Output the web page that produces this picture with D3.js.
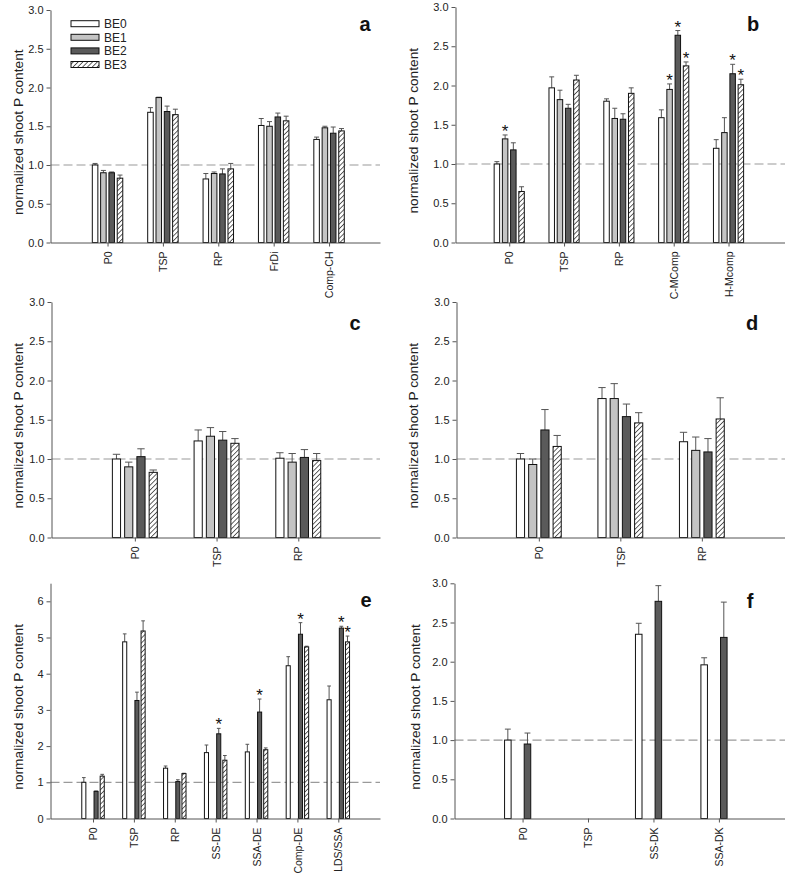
<!DOCTYPE html>
<html><head><meta charset="utf-8">
<script src="https://cdn.jsdelivr.net/npm/d3@7"></script>
<style>body{margin:0;background:#fff} svg{display:block}</style>
</head><body>
<svg id="chart" width="785" height="875"></svg>
<script>
const seriesNames = ["BE0", "BE1", "BE2", "BE3"];
const yLabel = "normalized shoot P content";

// Panel a
const catsA = ["P0", "TSP", "RP", "FrDi", "Comp-CH"];
const valsA = [
  [1.00, 1.68, 0.82, 1.51, 1.33],
  [0.90, 1.87, 0.89, 1.50, 1.48],
  [0.90, 1.69, 0.885, 1.62, 1.41],
  [0.83, 1.65, 0.95, 1.57, 1.44]
];
const errsA = [
  [0.02, 0.06, 0.07, 0.09, 0.03],
  [0.03, 0.005, 0.02, 0.06, 0.02],
  [0.01, 0.07, 0.065, 0.05, 0.08],
  [0.04, 0.07, 0.07, 0.06, 0.03]
];
const starsA = [];

// Panel b
const catsB = ["P0", "TSP", "RP", "C-MComp", "H-Mcomp"];
const valsB = [
  [1.00, 1.97, 1.80, 1.59, 1.20],
  [1.32, 1.82, 1.58, 1.95, 1.40],
  [1.18, 1.71, 1.57, 2.64, 2.15],
  [0.65, 2.07, 1.90, 2.25, 2.01]
];
const errsB = [
  [0.03, 0.14, 0.03, 0.10, 0.11],
  [0.05, 0.12, 0.13, 0.07, 0.19],
  [0.09, 0.05, 0.07, 0.06, 0.12],
  [0.06, 0.06, 0.07, 0.05, 0.07]
];
const starsB = [[0, 1], [3, 1], [3, 2], [3, 3], [4, 2], [4, 3]];

// Panel c
const catsC = ["P0", "TSP", "RP"];
const valsC = [
  [1.00, 1.23, 1.01],
  [0.90, 1.29, 0.96],
  [1.03, 1.24, 1.02],
  [0.83, 1.20, 0.98]
];
const errsC = [
  [0.06, 0.14, 0.07],
  [0.06, 0.11, 0.11],
  [0.10, 0.11, 0.10],
  [0.03, 0.06, 0.09]
];
const starsC = [];

// Panel d
const catsD = ["P0", "TSP", "RP"];
const valsD = [
  [1.00, 1.77, 1.22],
  [0.93, 1.77, 1.11],
  [1.37, 1.54, 1.09],
  [1.16, 1.46, 1.51]
];
const errsD = [
  [0.07, 0.14, 0.12],
  [0.07, 0.19, 0.17],
  [0.26, 0.16, 0.17],
  [0.14, 0.13, 0.27]
];
const starsD = [];

// Panel e
const catsE = ["P0", "TSP", "RP", "SS-DE", "SSA-DE", "Comp-DE", "LDS/SSA"];
const valsE = [
  [1.00, 4.88, 1.39, 1.82, 1.84, 4.22, 3.28],
  [null, null, null, null, null, null, null],
  [0.75, 3.26, 1.02, 2.34, 2.94, 5.09, 5.26],
  [1.17, 5.18, 1.24, 1.61, 1.90, 4.74, 4.88]
];
const errsE = [
  [0.13, 0.22, 0.06, 0.21, 0.21, 0.25, 0.38],
  [null, null, null, null, null, null, null],
  [0.01, 0.23, 0.05, 0.15, 0.36, 0.32, 0.05],
  [0.05, 0.28, 0.01, 0.13, 0.05, 0.02, 0.16]
];
const starsE = [[3, 2], [4, 2], [5, 2], [6, 2], [6, 3]];

// Panel f
const catsF = ["P0", "TSP", "SS-DK", "SSA-DK"];
const valsF = [
  [1.00, null, 2.35, 1.96],
  [null, null, null, null],
  [0.95, null, 2.77, 2.31],
  [null, null, null, null]
];
const errsF = [
  [0.14, null, 0.14, 0.09],
  [null, null, null, null],
  [0.14, null, 0.20, 0.45],
  [null, null, null, null]
];
const starsF = [];

const ticks3 = [0, 0.5, 1.0, 1.5, 2.0, 2.5, 3.0];
const ticks6 = [0, 1, 2, 3, 4, 5, 6];

const panels = [
  {letter: "a", cats: catsA, vals: valsA, errs: errsA, stars: starsA, dom: [-1.03, 4.92], left: 50.5, right: 380, top: 10, bottom: 242.5, ymax: 3, ticks: ticks3, fmt: d3.format(".1f"), labX: 18, letX: 365, letY: 31, legend: true},
  {letter: "b", cats: catsB, vals: valsB, errs: errsB, stars: starsB, dom: [-0.98, 5.03], left: 455.5, right: 785, top: 7, bottom: 242.5, ymax: 3, ticks: ticks3, fmt: d3.format(".1f"), labX: 413, letX: 753, letY: 31},
  {letter: "c", cats: catsC, vals: valsC, errs: errsC, stars: starsC, dom: [-1.02, 3.0], left: 51.5, right: 380, top: 302, bottom: 537.5, ymax: 3, ticks: ticks3, fmt: d3.format(".1f"), labX: 18, letX: 355, letY: 330},
  {letter: "d", cats: catsD, vals: valsD, errs: errsD, stars: starsD, dom: [-1.01, 3.02], left: 456.5, right: 785, top: 302, bottom: 537.5, ymax: 3, ticks: ticks3, fmt: d3.format(".1f"), labX: 413, letX: 752, letY: 330},
  {letter: "e", cats: catsE, vals: valsE, errs: errsE, stars: starsE, dom: [-1.04, 7.02], left: 50.5, right: 380, top: 583.2, bottom: 818.5, ymax: 6.5, ticks: ticks6, fmt: d3.format("d"), labX: 18, letX: 366, letY: 607},
  {letter: "f", cats: catsF, vals: valsF, errs: errsF, stars: starsF, dom: [-1.04, 4.01], left: 454.5, right: 785, top: 583.3, bottom: 818.5, ymax: 3, ticks: ticks3, fmt: d3.format(".1f"), labX: 415, letX: 750, letY: 608}
];

const fills = ["#ffffff", "#c4c4c4", "#5a5a5a", "url(#hatch)"];
const FONT = "'Liberation Sans', Arial, sans-serif";
const axisColor = "#555";

const svg = d3.select("#chart");
const defs = svg.append("defs");
const pat = defs.append("pattern").attr("id", "hatch").attr("patternUnits", "userSpaceOnUse")
  .attr("width", 3.4).attr("height", 3.4).attr("patternTransform", "rotate(45)");
pat.append("rect").attr("width", 3.4).attr("height", 3.4).attr("fill", "#fff");
pat.append("line").attr("x1", 0).attr("y1", 0).attr("x2", 0).attr("y2", 3.4)
  .attr("stroke", "#111").attr("stroke-width", 1.3);

panels.forEach(p => {
  const g = svg.append("g");
  const x = d3.scaleLinear().domain(p.dom).range([p.left, p.right]);
  const y = d3.scaleLinear().domain([0, p.ymax]).range([p.bottom, p.top]);
  const step = x(1) - x(0);
  const pitch = 0.15 * step, bw = 0.1 * step;
  const barX = (ci, si) => x(ci) + (si - 1.5) * pitch - bw / 2;

  // reference line at 1
  g.append("line").attr("x1", p.left).attr("x2", p.right).attr("y1", y(1)).attr("y2", y(1))
    .attr("stroke", "#9a9a9a").attr("stroke-width", 1.2).attr("stroke-dasharray", "9,4");

  const items = [];
  p.vals.forEach((arr, si) => arr.forEach((v, ci) => {
    if (v !== null) items.push({ci, si, v, e: p.errs[si][ci]});
  }));

  // error bars
  const eg = g.append("g").attr("stroke", "#555").attr("stroke-width", 1);
  items.forEach(d => {
    const cx = barX(d.ci, d.si) + bw / 2;
    eg.append("line").attr("x1", cx).attr("x2", cx).attr("y1", y(d.v)).attr("y2", y(d.v + d.e));
    eg.append("line").attr("x1", cx - bw * 0.45).attr("x2", cx + bw * 0.45)
      .attr("y1", y(d.v + d.e)).attr("y2", y(d.v + d.e));
  });

  // bars
  g.append("g").selectAll("rect").data(items).join("rect")
    .attr("x", d => barX(d.ci, d.si)).attr("width", bw)
    .attr("y", d => y(d.v)).attr("height", d => y(0) - y(d.v))
    .attr("fill", d => fills[d.si]).attr("stroke", "#111").attr("stroke-width", 1);

  // stars
  p.stars.forEach(([ci, si]) => {
    const d = items.find(it => it.ci === ci && it.si === si);
    g.append("text").attr("x", barX(ci, si) + bw / 2).attr("y", y(d.v + d.e) + 2)
      .attr("text-anchor", "middle").attr("font-family", FONT).attr("font-size", 17)
      .attr("fill", "#111").text("*");
  });

  // y axis
  const ya = g.append("g").attr("transform", `translate(${p.left},0)`)
    .call(d3.axisLeft(y).tickValues(p.ticks).tickFormat(p.fmt).tickSize(4).tickSizeOuter(0).tickPadding(3));
  ya.select(".domain").attr("stroke", axisColor);
  ya.selectAll(".tick line").attr("stroke", axisColor);
  ya.selectAll("text").attr("font-family", FONT).attr("font-size", 11).attr("fill", "#222");

  // x axis
  const xa = g.append("g").attr("transform", `translate(0,${p.bottom})`)
    .call(d3.axisBottom(x).tickValues(d3.range(p.cats.length)).tickSize(4).tickSizeOuter(0).tickFormat(i => p.cats[i]));
  xa.select(".domain").attr("stroke", axisColor);
  xa.selectAll(".tick line").attr("stroke", axisColor);
  xa.selectAll("text").attr("font-family", FONT).attr("font-size", 10.5).attr("fill", "#222")
    .attr("transform", "rotate(-90)").attr("text-anchor", "end")
    .attr("x", -9).attr("y", 0).attr("dy", "0.35em");

  // y label
  g.append("text").attr("transform", `translate(${p.labX},${(p.top + p.bottom) / 2 + 6}) rotate(-90)`)
    .attr("text-anchor", "middle").attr("dy", "0.35em").attr("font-family", FONT).attr("font-size", 13.7)
    .attr("fill", "#222").text(yLabel);

  // panel letter
  g.append("text").attr("x", p.letX).attr("y", p.letY).attr("text-anchor", "middle")
    .attr("font-family", FONT).attr("font-weight", "bold").attr("font-size", 20).attr("fill", "#111").text(p.letter);

  if (p.legend) {
    const lg = g.append("g");
    seriesNames.forEach((s, i) => {
      const cy = 23.7 + i * 13.6;
      lg.append("rect").attr("x", 71).attr("y", cy - 3).attr("width", 28).attr("height", 6)
        .attr("fill", fills[i]).attr("stroke", "#111").attr("stroke-width", 1);
      lg.append("text").attr("x", 104).attr("y", cy).attr("dy", "0.35em")
        .attr("font-family", FONT).attr("font-size", 12).attr("fill", "#222").text(s);
    });
  }
});
</script>
</body></html>
